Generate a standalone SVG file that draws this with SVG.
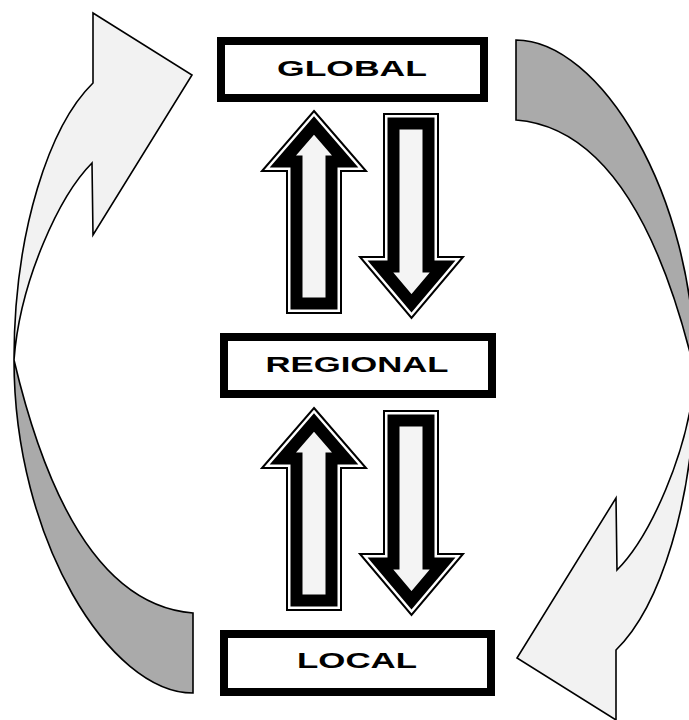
<svg xmlns="http://www.w3.org/2000/svg" xmlns:xlink="http://www.w3.org/1999/xlink" width="689" height="720" viewBox="0 0 689 720">
<style>
.light{fill:#f2f2f2;stroke:#000;stroke-width:1.6;stroke-linejoin:miter}
.gray{fill:#aaaaaa;stroke:#000;stroke-width:1.6}
.aout{fill:#fff;stroke:#000;stroke-width:2}
.ain{fill:#f4f4f4;stroke:#000;stroke-width:12;stroke-linejoin:miter;stroke-miterlimit:10}
.box{fill:#fff;stroke:#000;stroke-width:8}
.lbl{font-family:"Liberation Sans",Arial,sans-serif;font-weight:bold;font-size:22px;fill:#000;text-anchor:middle}
</style>
<defs>
<g id="upArrow">
<path class="aout" d="M314,111 L366,171 L341,171 L341,313 L287,313 L287,171 L262,171 Z"/>
<path class="ain" d="M314,125.5 L345.2,161.5 L331.5,161.5 L331.5,303.5 L296.5,303.5 L296.5,161.5 L282.8,161.5 Z"/>
</g>
<g id="downArrow">
<path class="aout" d="M384,114 L438,114 L438,257 L463,257 L411.5,318 L360,257 L384,257 Z"/>
<path class="ain" d="M393.5,123.5 L428.5,123.5 L428.5,266.5 L442.55,266.5 L411.5,303.3 L380.45,266.5 L393.5,266.5 Z"/>
</g>
<g id="cycleHalf">
<path class="light" d="M93,83 L93,13 L192,75 L93,235 L92,163 C60,195 20,280 14,360 C14,230 50,125 93,83 Z"/>
<path class="gray" d="M14,360 C40,470 90,605 193,613 L193,693 C110,693 14,540 14,360 Z"/>
</g>
</defs>
<g id="connectors">
<use xlink:href="#cycleHalf"/>
<use xlink:href="#cycleHalf" transform="rotate(180 354.5 366.5)"/>
<use xlink:href="#upArrow"/>
<use xlink:href="#downArrow"/>
<use xlink:href="#upArrow" transform="translate(0,297)"/>
<use xlink:href="#downArrow" transform="translate(0,297)"/>
</g>
<g id="global">
<rect class="box" x="221" y="41" width="263" height="57"/>
<text class="lbl" x="352" y="75.5" textLength="150" lengthAdjust="spacingAndGlyphs">GLOBAL</text>
</g>
<g id="regional">
<rect class="box" x="224" y="337" width="268" height="57"/>
<text class="lbl" x="357" y="372" textLength="183" lengthAdjust="spacingAndGlyphs">REGIONAL</text>
</g>
<g id="local">
<rect class="box" x="224" y="634" width="267" height="58"/>
<text class="lbl" x="357" y="668" textLength="120" lengthAdjust="spacingAndGlyphs">LOCAL</text>
</g>
</svg>
